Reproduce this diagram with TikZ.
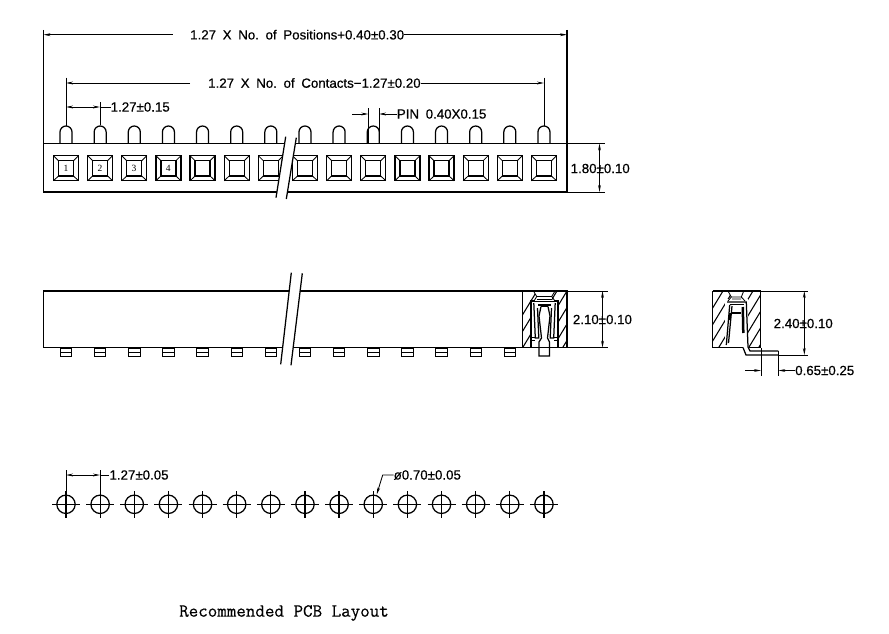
\documentclass[tikz,border=0pt]{standalone}
\usepackage{fontspec}
\setmainfont{Liberation Sans}
\newfontfamily\labfont{Liberation Sans}[RawFeature={embolden=0.5}]
\newfontfamily\numfont{Liberation Serif}
\newfontfamily\capfont{Latin Modern Mono}[RawFeature={embolden=0.4}]
\usetikzlibrary{arrows.meta}
\tikzset{
  x=1pt,y=-1pt,
  outl/.style={draw=black,line width=1.25pt},
  thinl/.style={draw=black,line width=0.85pt},
  hatchl/.style={draw=black,line width=1.05pt},
  dimline/.style={draw=black,line width=0.85pt,{Stealth[length=7pt,width=2.8pt]}-{Stealth[length=7pt,width=2.8pt]}},
  arr/.style={draw=black,line width=0.85pt,-{Stealth[length=7pt,width=2.8pt]}},
  lab/.style={font=\labfont\fontsize{13.3}{14}\selectfont,inner sep=0pt,anchor=west},
  num/.style={font=\numfont\fontsize{9.5}{10}\selectfont,inner sep=0pt},
}
\begin{document}
\begin{tikzpicture}
\useasboundingbox[fill=white] (0,0) rectangle (889,634);
% top view
\foreach \i in {0,...,14}{
  \pgfmathsetmacro{\cx}{66+34.14*\i}
  \draw[outl] (\cx-6,143.5) -- (\cx-6,132) arc[start angle=180,end angle=360,radius=6] -- (\cx+6,143.5);
  \draw[outl] (\cx-12.5,155.7) rectangle (\cx+12.5,180.7);
  \draw[outl] (\cx-7.5,160.7) rectangle (\cx+7.5,176);
  \draw[thinl] (\cx-12.5,155.7) -- (\cx-7.5,160.7) (\cx+12.5,155.7) -- (\cx+7.5,160.7) (\cx-12.5,180.7) -- (\cx-7.5,176) (\cx+12.5,180.7) -- (\cx+7.5,176);
}
\draw[outl] (43.5,143.5) rectangle (567,192);
\fill[white] (285.7,136.7) -- (296.3,137.7) -- (286.3,199) -- (276,197.7) -- cycle;
\draw[outl] (285.7,136.7) -- (276,197.7) (296.3,137.7) -- (286.3,199);
\node[num] (n1) at (66.1,168.5) {1};
\node[num] (n2) at (100,168.5) {2};
\node[num] (n3) at (134,168.5) {3};
\node[num] (n4) at (168.3,168.5) {4};
% top dims
\coordinate (a1) at (43.5,143);
\coordinate (a2) at (567,143);
\draw[outl] (43.5,30) -- (a1) (567,30) -- (a2);
\node[lab] (t1) at (190,34.7) {1.27\hspace{0.5em}X\hspace{0.5em}No.\hspace{0.5em}of\hspace{0.5em}Positions+0.40±0.30};
\draw[arr] (172.7,34.7) -- (43.5,34.7);
\draw[arr] (t1.east) -- (567,34.7);
\draw[thinl] (66,77.7) -- (66,126) (544,77.7) -- (544,126);
\node[lab] (t2) at (208,83) {1.27\hspace{0.5em}X\hspace{0.5em}No.\hspace{0.5em}of\hspace{0.5em}Contacts−1.27±0.20};
\draw[arr] (190,83) -- (66,83);
\draw[arr] (t2.east) -- (544,83);
\draw[thinl] (100,102) -- (100,124.5);
\node[lab] (t3) at (110.5,107) {1.27±0.15};
\draw[dimline] (66,107) -- (100,107);
\draw[thinl] (100,107) -- (t3.west);
\draw[thinl] (368.3,108) -- (368.3,143) (379,108) -- (379,143);
\node[lab] (t4) at (396.7,114) {PIN\hspace{0.5em}0.40X0.15};
\draw[arr] (352.3,114) -- (368.3,114);
\draw[arr] (t4.west) -- (379,114);
\draw[thinl] (567,143.5) -- (605,143.5) (567,192) -- (605,192);
\draw[dimline] (599.5,143.5) -- (599.5,192);
\node[lab] (t5) at (570.5,168.5) {1.80±0.10};
% side view
\foreach \i in {0,...,13}{
  \pgfmathsetmacro{\cx}{66+34.14*\i}
  \draw[thinl] (\cx-5.7,348) rectangle (\cx+5.7,356);
  \draw[thinl] (\cx-5.7,352) -- (\cx+5.7,352);
}
\draw[outl] (43.5,291) rectangle (567,347.7);
\fill[white] (291.3,272.7) -- (302.3,273.3) -- (291,365.3) -- (280.7,364.3) -- cycle;
\draw[outl] (291.3,272.7) -- (280.7,364.3) (302.3,273.3) -- (291,365.3);
% section 1
\begin{scope}
\clip (522.7,291) rectangle (567,347.7);
\foreach \k in {0,...,10}{
  \draw[hatchl] (500+\k*10,352) -- ++(40,-66);
}
\end{scope}
\fill[white] (531,300) rectangle (558,347);
\fill[white] (533.5,291) -- (555,291) -- (551.7,296.5) -- (536.7,296.5) -- cycle;
\fill[white] (536,296) rectangle (552,300);
\draw[outl] (522.7,291) rectangle (567,347.7);
\draw[outl] (531,347.7) -- (531,301) -- (535,301) (554,301) -- (558,301) -- (558,347.7);
\draw[thinl] (533.5,291) -- (536.7,296.5) -- (551.7,296.5) -- (555,291);
\draw[thinl] (537,299.5) -- (552,299.5) (536.7,296.5) -- (534,301) (551.7,296.5) -- (555,301);
\draw[outl] (534,301.5) -- (555,301.5);
\draw[outl] (533.8,303) -- (535.3,338) -- (538.8,338) -- (537.5,308) (555.2,303) -- (553.7,338) -- (550.2,338) -- (551.5,308);
\draw[outl] (538,305) -- (551,305);
\draw[outl] (539,316) -- (541,306.5) (550,316) -- (548,306.5);
\draw[thinl] (541,306.5) -- (548,306.5);
\draw[outl] (539,316) -- (541.5,338) -- (539,342) -- (539,356) -- (549.5,356) -- (549.5,342) -- (547.5,338) -- (550,316);
\draw[thinl] (531,337) -- (535,337) (554,337) -- (558,337);
\draw[thinl] (531,340) -- (535,340) (554,340) -- (558,340);
\draw[thinl] (567,291) -- (608,291) (567,347.7) -- (608,347.7);
\draw[dimline] (602.5,291) -- (602.5,347.7);
\node[lab] (t6) at (572.7,319.5) {2.10±0.10};
% section 2
\begin{scope}
\clip (712.5,291) rectangle (760.3,347.5);
\foreach \k in {0,...,9}{
  \draw[hatchl] (686+\k*10,352) -- ++(40,-66);
}
\end{scope}
\fill[white] (725,299) rectangle (748,347);
\fill[white] (728,291) -- (743.7,291) -- (741.3,297) -- (731.3,297) -- cycle;
\fill[white] (731,296) rectangle (741,300);
\draw[outl] (712.5,291) -- (760.3,291) -- (760.3,347.5) -- (748,347.5);
\draw[outl] (712.5,291) -- (712.5,347.5) -- (743,347.5);
\draw[thinl] (728,291) -- (731.3,297) -- (741.3,297) -- (743.7,291);
\draw[thinl] (732,299) -- (741,299) (731.3,297) -- (728,301) (741.3,297) -- (745,301);
\draw[outl] (727,302) -- (746.3,302) -- (748,347) -- (750,351) -- (778.3,351);
\draw[outl] (743,347.5) -- (746,355) -- (778.3,355);
\draw[outl] (729.7,304.7) -- (744,304.7);
\draw[outl] (729.7,305) -- (726.3,345) (732,306) -- (728.5,343);
\draw[outl] (731,313) -- (741,313) (730,313) -- (730,320);
\draw[line width=2.5pt] (742.8,307) -- (743.3,333);
\draw[thinl] (760.3,291) -- (808,291) (778.3,355) -- (808,355);
\draw[dimline] (804.3,291) -- (804.3,355);
\node[lab] (t7) at (773.5,323.5) {2.40±0.10};
\draw[thinl] (761,348) -- (761,376) (778.3,351) -- (778.3,376);
\node[lab] (t8) at (795,370.5) {0.65±0.25};
\draw[arr] (745,370.5) -- (761,370.5);
\draw[arr] (t8.west) -- (778.3,370.5);
% PCB layout
\foreach \i in {0,...,14}{
  \pgfmathsetmacro{\cx}{66+34.14*\i}
  \draw[outl] (\cx,504.3) circle[radius=9.2];
  \draw[outl] (\cx-14,504.3) -- (\cx+14,504.3) (\cx,491) -- (\cx,518);
}
\draw[thinl] (66,470) -- (66,492) (100,470) -- (100,492);
\node[lab] (t9) at (109.3,475) {1.27±0.05};
\draw[dimline] (66,475) -- (100,475);
\draw[thinl] (100,475) -- (t9.west);
\node[lab] (t10) at (393.5,475) {ø0.70±0.05};
\coordinate (hole) at (376.7,494.5);
\draw[arr] (t10.west) -- (382.7,475) -- (hole);
\node[font=\capfont\fontsize{18.5}{19}\selectfont,inner sep=0pt,anchor=west] (cap) at (179,613) {Recommended PCB Layout};
\end{tikzpicture}
\end{document}
